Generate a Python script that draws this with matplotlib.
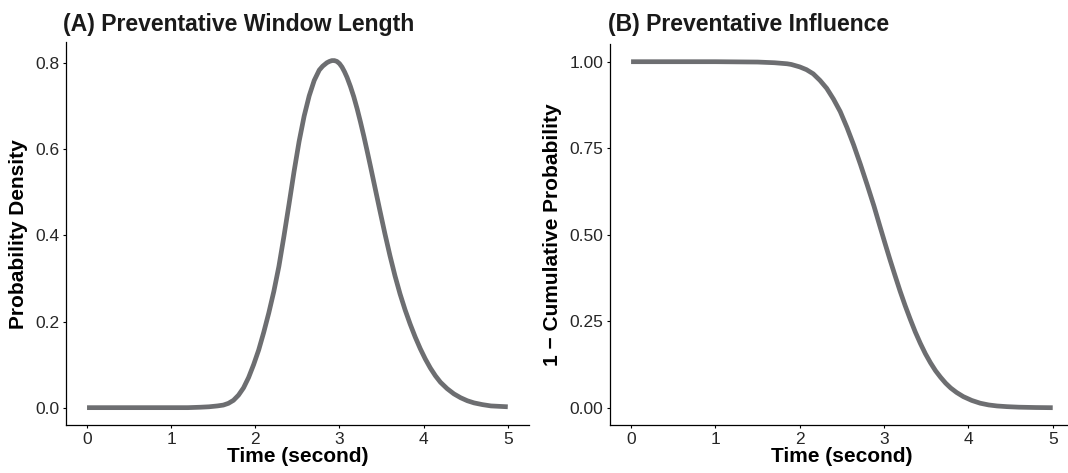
import matplotlib
matplotlib.use("Agg")
import matplotlib.pyplot as plt

plt.rcParams['font.family'] = ['Liberation Sans', 'DejaVu Sans']

# (A) density of the preventative window length
dens_time = [0.0, 0.5, 1.0, 1.2, 1.35, 1.45, 1.55, 1.62, 1.68, 1.74, 1.80, 1.86,
             1.92, 1.98, 2.04, 2.10, 2.16, 2.22, 2.28, 2.34, 2.40, 2.46, 2.52,
             2.58, 2.64, 2.70, 2.76, 2.80, 2.85, 2.88, 2.91, 2.94, 2.97, 3.00,
             3.03, 3.06, 3.09, 3.13, 3.17, 3.21, 3.25, 3.29, 3.33, 3.37, 3.42,
             3.48, 3.54, 3.60, 3.66, 3.72, 3.78, 3.84, 3.90, 3.96, 4.02, 4.08,
             4.14, 4.20, 4.28, 4.36, 4.44, 4.52, 4.60, 4.70, 4.80, 4.90, 5.00]
dens_value = [0.000, 0.000, 0.000, 0.000, 0.001, 0.002, 0.004, 0.006, 0.010,
              0.017, 0.029, 0.046, 0.070, 0.100, 0.134, 0.175, 0.220, 0.270,
              0.328, 0.398, 0.472, 0.548, 0.618, 0.677, 0.724, 0.760, 0.784,
              0.793, 0.801, 0.804, 0.806, 0.806, 0.804, 0.799, 0.791, 0.780,
              0.767, 0.746, 0.722, 0.694, 0.663, 0.630, 0.595, 0.559, 0.513,
              0.458, 0.404, 0.353, 0.306, 0.264, 0.227, 0.194, 0.164, 0.137,
              0.113, 0.092, 0.074, 0.059, 0.044, 0.032, 0.023, 0.016, 0.011,
              0.007, 0.004, 0.003, 0.002]

# (B) 1 - cumulative probability
surv_time = [0.0, 1.0, 1.5, 1.7, 1.85, 1.90, 2.00, 2.08, 2.16, 2.24, 2.32, 2.40,
             2.48, 2.56, 2.64, 2.72, 2.80, 2.88, 2.95, 3.01, 3.07, 3.13, 3.19,
             3.25, 3.31, 3.37, 3.43, 3.49, 3.55, 3.61, 3.67, 3.73, 3.79, 3.86,
             3.94, 4.04, 4.14, 4.24, 4.34, 4.46, 4.60, 4.80, 5.00]
surv_value = [1.000, 1.000, 0.999, 0.997, 0.994, 0.992, 0.985, 0.977, 0.965,
              0.946, 0.923, 0.892, 0.856, 0.810, 0.759, 0.703, 0.644, 0.583,
              0.525, 0.476, 0.428, 0.382, 0.337, 0.295, 0.256, 0.219, 0.186,
              0.156, 0.130, 0.107, 0.088, 0.071, 0.057, 0.044, 0.032, 0.021,
              0.013, 0.008, 0.005, 0.003, 0.0015, 0.0005, 0.000]

x_ticks = [0, 1, 2, 3, 4, 5]
dens_ticks = [0.0, 0.2, 0.4, 0.6, 0.8]
dens_tick_labels = ["0.0", "0.2", "0.4", "0.6", "0.8"]
surv_ticks = [0.0, 0.25, 0.5, 0.75, 1.0]
surv_tick_labels = ["0.00", "0.25", "0.50", "0.75", "1.00"]

line_col = '#6d6e71'
W, H = 1068, 473

fig = plt.figure(figsize=(W / 100, H / 100), dpi=100)
ax1 = fig.add_axes([66 / W, 1 - 425 / H, 462.8 / W, 382.5 / H])
ax2 = fig.add_axes([610 / W, 1 - 425 / H, 463.8 / W, 380.6 / H])


def style(ax):
    for s in ['top', 'right']:
        ax.spines[s].set_visible(False)
    for s in ['left', 'bottom']:
        ax.spines[s].set_linewidth(0.9)
        ax.spines[s].set_color('black')
    ax.tick_params(direction='out', length=2.5, width=0.8, colors='black',
                   labelcolor='#262626', labelsize=12.5, pad=2.5)
    ax.set_xlim(-0.25, 5.25)
    ax.set_xticks(x_ticks)
    ax.set_xlabel("Time (second)", fontsize=15, fontweight='bold', labelpad=0)


ax1.plot(dens_time, dens_value, color=line_col, linewidth=3.4,
         solid_capstyle='butt', solid_joinstyle='round')
style(ax1)
ax1.set_ylim(-0.0403, 0.848)
ax1.set_yticks(dens_ticks, dens_tick_labels)
ax1.set_ylabel("Probability Density", fontsize=15, fontweight='bold', labelpad=5)

ax2.plot(surv_time, surv_value, color=line_col, linewidth=3.4,
         solid_capstyle='butt', solid_joinstyle='round')
style(ax2)
ax2.set_ylim(-0.05, 1.05)
ax2.set_yticks(surv_ticks, surv_tick_labels)
ax2.set_ylabel("1 \u2212 Cumulative Probability", fontsize=15, fontweight='bold', labelpad=5)

fig.text(63 / W, 1 - 31 / H, "(A) Preventative Window Length", fontsize=16.6,
         fontweight='bold', color='#1a1a1a', ha='left', va='baseline')
fig.text(608 / W, 1 - 31 / H, "(B) Preventative Influence", fontsize=16.6,
         fontweight='bold', color='#1a1a1a', ha='left', va='baseline')

fig.savefig("out.png", dpi=100)
